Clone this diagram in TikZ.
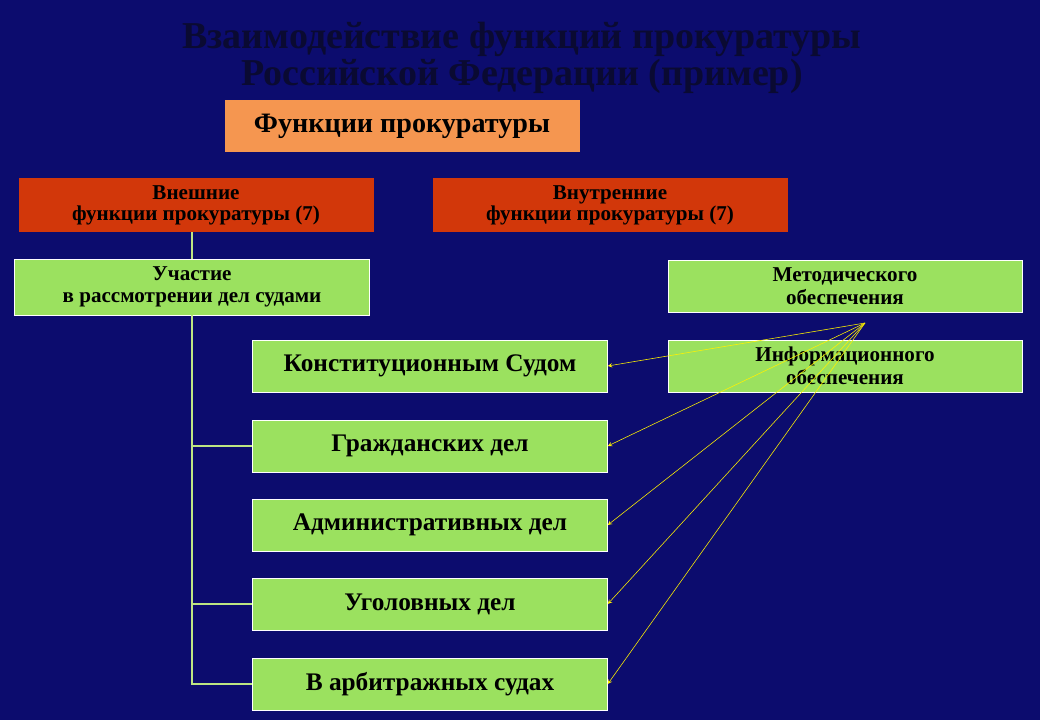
\documentclass[tikz,border=0pt]{standalone}
\usepackage{fontspec}
\setmainfont{Liberation Serif}
\begin{document}
\begin{tikzpicture}[x=0.025cm,y=-0.025cm]
   \tikzstyle{orange}=[fill={rgb,255:red,245;green,150;blue,80},inner sep=0pt,font=\bfseries\fontsize{20}{22}\selectfont]
   \tikzstyle{group}=[fill={rgb,255:red,210;green,55;blue,10},inner sep=0pt,align=center,font=\bfseries\fontsize{15}{15}\selectfont]
   \tikzstyle{item}=[fill={rgb,255:red,155;green,225;blue,95},draw=white,inner sep=0pt,align=center,font=\bfseries\fontsize{15}{16}\selectfont]
   \tikzstyle{big}=[item,font=\bfseries\fontsize{18}{20}\selectfont]
   \tikzstyle{link}=[draw={rgb,255:red,190;green,230;blue,130},thick]
   \tikzstyle{arrow}=[draw=yellow,->,>=stealth]
   \fill[fill={rgb,255:red,12;green,12;blue,110}] (0,0) rectangle (1040,720);
   \node (title) at (522,58) [align=center,text={rgb,255:red,10;green,10;blue,50},font=\bfseries\fontsize{27}{26}\selectfont] {Взаимодействие функций прокуратуры\\Российской Федерации (пример)} ;
   \node (fun) at (402,126) [orange,minimum width=355*0.025cm,minimum height=52*0.025cm] {Функции прокуратуры} ;
   \node (ext) at (196,205) [group,minimum width=355*0.025cm,minimum height=54*0.025cm] {Внешние\\функции прокуратуры (7)} ;
   \node (int) at (610,205) [group,minimum width=355*0.025cm,minimum height=54*0.025cm] {Внутренние\\функции прокуратуры (7)} ;
   \node (part) at (192,287) [item,minimum width=355*0.025cm,minimum height=56*0.025cm] {Участие\\в рассмотрении дел судами} ;
   \node (met) at (845,286) [item,minimum width=354*0.025cm,minimum height=52*0.025cm] {Методического\\обеспечения} ;
   \node (info) at (845,366) [item,minimum width=354*0.025cm,minimum height=52*0.025cm] {Информационного\\обеспечения} ;
   \node (konst) at (430,366) [big,minimum width=355*0.025cm,minimum height=52*0.025cm] {Конституционным Судом} ;
   \node (civ) at (430,446) [big,minimum width=355*0.025cm,minimum height=52*0.025cm] {Гражданских дел} ;
   \node (adm) at (430,525) [big,minimum width=355*0.025cm,minimum height=52*0.025cm] {Административных дел} ;
   \node (crim) at (430,604) [big,minimum width=355*0.025cm,minimum height=52*0.025cm] {Уголовных дел} ;
   \node (arb) at (430,684) [big,minimum width=355*0.025cm,minimum height=52*0.025cm] {В арбитражных судах} ;
   \coordinate (src) at (865,323) ;
   \path [link] (ext.south -| part.north) -- (part.north) ;
   \path [link] (part.south) |- (arb.west) ;
   \path [link] (part.south |- civ.west) -- (civ.west) ;
   \path [link] (part.south |- crim.west) -- (crim.west) ;
   \foreach \n in {konst,civ,adm,crim,arb}
      \path [arrow] (src) -- (\n.east) ;
\end{tikzpicture}
\end{document}
